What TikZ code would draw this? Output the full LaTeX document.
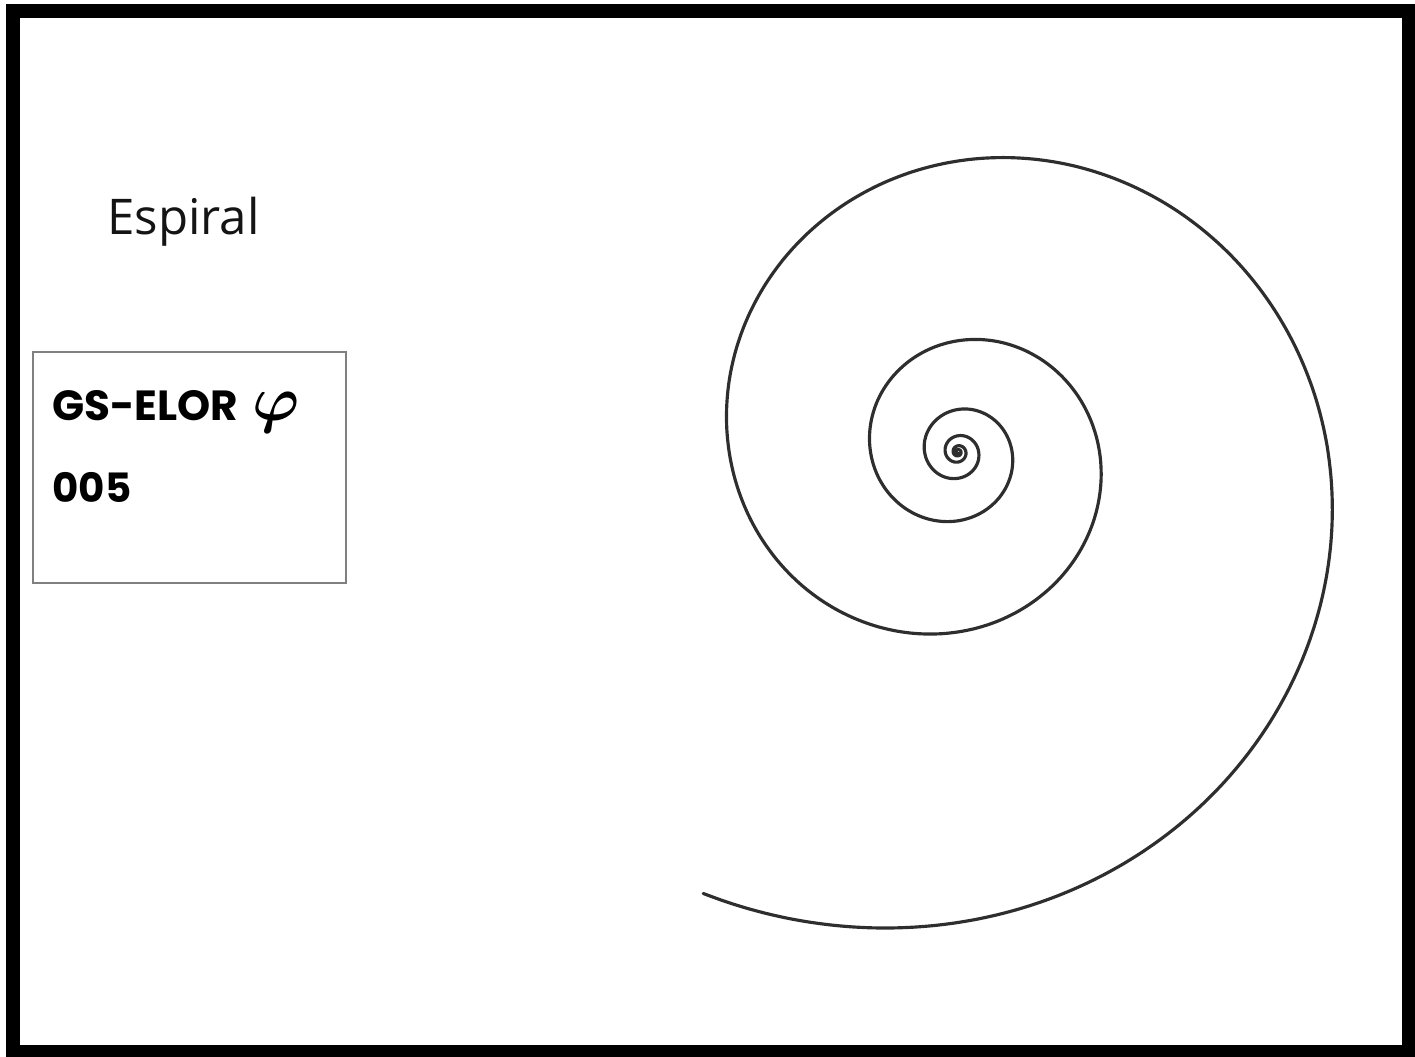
\documentclass[tikz,border=0pt]{standalone}
\usepackage{fontspec}
\usepackage{graphicx}
\newfontfamily\titlefont{Open Sans}
\newfontfamily\tagfont{Poppins}
\usetikzlibrary{positioning}

\begin{document}
\begin{tikzpicture}[
  x=0.02cm, y=-0.02cm,
  frame/.style={draw=black, line width=0.28cm},
  tagbox/.style={draw=black!50, line width=0.9pt, minimum width=6.26cm, minimum height=4.62cm, inner sep=0pt},
  caption/.style={anchor=base west, inner sep=0pt, text=black!92, font=\titlefont\fontsize{28}{34}\selectfont},
  tagtext/.style={anchor=base west, inner sep=0pt, text=black, font=\tagfont\bfseries},
  curve/.style={draw=black!82, line width=1.8pt, line join=round, line cap=round}
]
\useasboundingbox (0,0) rectangle (1415,1057);

% thick outer frame
\draw[frame] (13,11.5) rectangle (1408.5,1051.5);

% title and tag box on the left
\node[caption] (title) at (107,235) {Espiral};
\node[tagbox] (tag) at (189.5,467.5) {};
\node[tagtext, font=\tagfont\bfseries\fontsize{24}{28}\selectfont] (code) at (52,420) {GS-ELOR};
\node[anchor=base west, inner sep=0pt, font=\fontsize{10}{12}\selectfont] (phi) at (252,420) {\scalebox{3.6}{\boldmath$\varphi$}};
\node[tagtext, font=\tagfont\bfseries\fontsize{23}{27}\selectfont] (num) at (52,502) {005};

% golden spiral, r grows by phi every half turn
\draw[curve] plot[domain=-2100:120, samples=900, smooth, variable=\t]
  ({958+370*exp(0.0026734*\t)*cos(\t)}, {452+370*exp(0.0026734*\t)*sin(\t)});

\end{tikzpicture}
\end{document}
